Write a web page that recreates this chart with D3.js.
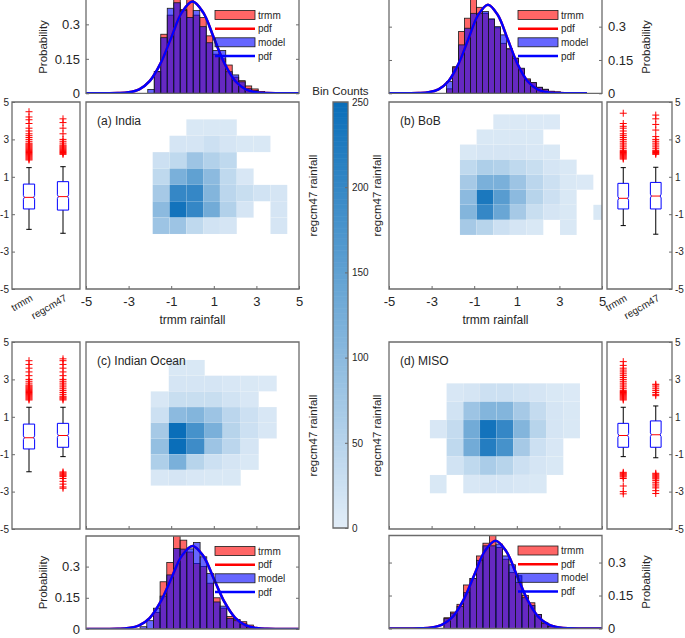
<!DOCTYPE html>
<html><head><meta charset="utf-8">
<script src="https://cdn.jsdelivr.net/npm/d3@7"></script>
<style>
body{margin:0;background:#fff}
svg{display:block}
text{font-family:"Liberation Sans",Arial,sans-serif;fill:#262626}
</style>
</head><body>
<svg id="c" width="685" height="638"></svg>
<script>
// ---------------- DATA ----------------
const panelLabels = ["(a) India", "(b) BoB", "(c) Indian Ocean", "(d) MISO"];
const boxCategories = ["trmm", "regcm47"];
const heatTicks = [-5, -3, -1, 1, 3, 5];
const histTicks = [0, 0.15, 0.3];
const cbarTicks = [0, 50, 100, 150, 200, 250];
const legendLabels = ["trmm", "pdf", "model", "pdf"];

// 2-D histogram bin edges: [xStart, xStep, yStart, yStep]; counts rows listed top -> bottom
const heatEdgesA = [-1.87, 0.79, -2.06, 0.876];
const heatCountsA = [
  [0, 0, 10, 10, 10, 0, 0, 0],
  [0, 15, 15, 25, 15, 10, 10, 0],
  [25, 40, 80, 55, 40, 0, 0, 0],
  [40, 120, 150, 100, 40, 12, 0, 0],
  [70, 200, 200, 110, 45, 30, 20, 15],
  [100, 240, 200, 130, 55, 15, 0, 15],
  [80, 80, 40, 20, 15, 0, 0, 15]
];
const heatEdgesB = [-1.67, 0.783, -2.11, 0.806];
const heatCountsB = [
  [0, 0, 8, 8, 8, 8, 0, 0, 0],
  [0, 10, 10, 10, 10, 0, 0, 0, 0],
  [10, 15, 15, 15, 12, 10, 0, 0, 0],
  [40, 60, 55, 40, 30, 15, 10, 0, 0],
  [70, 120, 120, 80, 45, 25, 10, 8, 0],
  [100, 230, 160, 100, 50, 25, 10, 0, 0],
  [110, 200, 140, 70, 30, 15, 10, 0, 10],
  [70, 50, 25, 15, 10, 0, 10, 0, 0]
];
const heatEdgesC = [-1.96, 0.845, -2.68, 0.84];
const heatCountsC = [
  [0, 10, 10, 0, 0, 0, 0],
  [0, 15, 15, 15, 12, 10, 8],
  [12, 30, 30, 30, 20, 12, 0],
  [25, 100, 110, 80, 45, 25, 12],
  [70, 250, 180, 120, 50, 25, 12],
  [90, 250, 190, 80, 45, 15, 0],
  [60, 120, 50, 25, 15, 10, 0],
  [12, 15, 12, 10, 10, 0, 0]
];
const heatEdgesD = [-3.08, 0.783, -3.09, 0.98];
const heatCountsD = [
  [0, 12, 15, 25, 25, 20, 15, 10, 8],
  [0, 20, 80, 110, 110, 70, 35, 15, 10],
  [12, 35, 130, 240, 200, 110, 50, 15, 10],
  [0, 40, 130, 220, 180, 70, 25, 12, 0],
  [0, 20, 40, 65, 50, 25, 15, 10, 0],
  [10, 0, 12, 15, 15, 12, 10, 0, 0]
];

// Box plot stats: [lower whisker, q1, median, q3, upper whisker]
const boxTrmmA = [-1.81, -0.72, -0.10, 0.61, 1.49];
const boxModelA = [-2.02, -0.78, -0.06, 0.74, 1.54];
const outTrmmA = [1.9,1.95,2.0,2.05,2.1,2.15,2.2,2.25,2.3,2.35,2.4,2.45,2.5,2.55,2.6,2.65,2.7,2.75,2.8,2.9,3.0,3.1,3.2,3.3,3.45,3.6,3.85,4.05,4.2,4.48];
const outModelA = [2.2,2.25,2.3,2.35,2.4,2.45,2.5,2.55,2.6,2.65,2.7,2.8,2.9,3.0,3.3,3.6,3.9,4.1];
const boxTrmmB = [-1.61, -0.72, -0.15, 0.65, 1.49];
const boxModelB = [-2.07, -0.72, -0.03, 0.70, 1.51];
const outTrmmB = [1.95,2.0,2.05,2.1,2.15,2.2,2.25,2.3,2.35,2.4,2.5,2.6,2.7,2.8,2.9,3.0,3.1,3.2,3.3,3.45,3.6,3.7,3.85,4.4];
const outModelB = [2.2,2.25,2.3,2.35,2.4,2.5,2.6,2.7,2.8,2.9,3.0,3.15,3.5,3.8,4.1,4.3];
const boxTrmmC = [-1.94, -0.72, -0.12, 0.61, 1.51];
const boxModelC = [-1.13, -0.63, 0.0, 0.65, 1.51];
const outTrmmC = [1.9,1.95,2.0,2.05,2.1,2.15,2.2,2.25,2.3,2.35,2.4,2.45,2.5,2.55,2.6,2.65,2.7,2.8,2.9,3.0,3.2,3.4,3.6,3.8,4.0];
const outModelC = [1.9,1.95,2.0,2.05,2.1,2.2,2.3,2.4,2.5,2.6,2.7,2.8,2.9,3.0,3.2,3.4,3.6,3.8,4.0,4.1,
                   -1.95,-2.0,-2.05,-2.1,-2.15,-2.2,-2.3,-2.45,-2.6,-2.75,-2.82];
const boxTrmmD = [-1.13, -0.63, 0.0, 0.65, 1.51];
const boxModelD = [-1.19, -0.63, 0.04, 0.78, 1.58];
const outTrmmD = [1.9,1.95,2.0,2.05,2.1,2.15,2.2,2.25,2.3,2.35,2.4,2.5,2.6,2.7,2.8,2.9,3.0,3.1,3.2,3.3,3.4,3.5,3.6,3.75,3.95,
                  -1.97,-2.02,-2.07,-2.12,-2.17,-2.22,-2.3,-2.7,-3.0,-3.12];
const outModelD = [2.13,2.2,2.3,2.4,2.5,2.6,2.7,2.74,
                   -2.02,-2.07,-2.12,-2.17,-2.22,-2.27,-2.32,-2.4,-2.5,-2.6,-2.7,-2.8,-2.95,-3.1];

// Histograms (probability density): bins [start, width]
const histBinsA = [-2.10, 0.305];
const histTrmmA = [0, 0.095, 0.257, 0.34, 0.415, 0.365, 0.415, 0.34, 0.33, 0.25, 0.17, 0.15, 0.123, 0.07, 0.055, 0.032, 0.019, 0.008];
const histModelA = [0.017, 0.094, 0.242, 0.37, 0.394, 0.36, 0.33, 0.36, 0.29, 0.22, 0.186, 0.186, 0.094, 0.08, 0.05, 0.02, 0.012, 0.005];
const histBinsB = [-2.09, 0.303];
const histTrmmB = [0.02, 0.12, 0.278, 0.338, 0.43, 0.387, 0.36, 0.333, 0.295, 0.225, 0.2, 0.158, 0.11, 0.065, 0.048, 0.027, 0.018, 0.009, 0.006];
const histModelB = [0.053, 0.115, 0.218, 0.293, 0.36, 0.36, 0.368, 0.335, 0.3, 0.263, 0.2, 0.158, 0.113, 0.06, 0.048, 0.027, 0.018, 0.009, 0.006];
const histBinsC = [-2.46, 0.313];
const histTrmmC = [0, 0, 0.08, 0.227, 0.32, 0.448, 0.427, 0.37, 0.315, 0.3, 0.22, 0.15, 0.1, 0.06, 0.046, 0.035, 0.019, 0.006];
const histModelC = [0.011, 0.04, 0.1, 0.158, 0.26, 0.387, 0.384, 0.385, 0.416, 0.347, 0.267, 0.13, 0.11, 0.05, 0.04, 0.025, 0.01, 0.003];
const histBinsD = [-2.42, 0.305];
const histTrmmD = [0.049, 0.075, 0.11, 0.198, 0.227, 0.33, 0.388, 0.43, 0.368, 0.315, 0.255, 0.21, 0.15, 0.117, 0.064, 0.026, 0.012, 0.005];
const histModelD = [0.045, 0.07, 0.1, 0.163, 0.227, 0.31, 0.376, 0.376, 0.384, 0.33, 0.29, 0.24, 0.14, 0.105, 0.064, 0.022, 0.01, 0.004];

// fitted pdf curve
const pdfX = [-5,-4.5,-4,-3.5,-3,-2.5,-2,-1.5,-1,-0.5,0,0.5,1,1.5,2,2.5,3,3.5,4,4.5,5];
const pdfY = [0,0,0.0001,0.0009,0.0044,0.0175,0.054,0.13,0.242,0.352,0.399,0.352,0.242,0.13,0.054,0.0175,0.0044,0.0009,0.0001,0,0];

// ---------------- DRAWING ----------------
const svg = d3.select("#c");
const AX = "#6b6b6b";
const FONT = '"Liberation Sans", Arial, sans-serif';
const color = d3.scaleLinear().domain([0, 250]).range(["#e2edf8", "#0a6eb9"]);
let clipN = 0;
function clip(x0, y0, x1, y1) {
  const id = "cl" + (clipN++);
  svg.append("clipPath").attr("id", id).append("rect")
    .attr("x", x0).attr("y", y0).attr("width", x1 - x0).attr("height", y1 - y0);
  return `url(#${id})`;
}
function styleAxis(sel, fs) {
  sel.select(".domain").remove();
  sel.attr("font-family", FONT).attr("font-size", fs);
  sel.selectAll(".tick line").attr("stroke", AX).attr("stroke-width", 1);
  sel.selectAll(".tick text").attr("fill", "#262626");
}
function border(g, x0, y0, x1, y1, withTop = true) {
  const d = withTop ? `M${x0},${y0}H${x1}V${y1}H${x0}Z` : `M${x0},${y0}V${y1}H${x1}V${y0}`;
  g.append("path").attr("d", d).attr("fill", "none").attr("stroke", AX).attr("stroke-width", 1.3);
}
const fmt = d => String(d);

function drawHeat(counts, edges, label, xr, yr, showX) {
  const x = d3.scaleLinear([-5, 5], xr), y = d3.scaleLinear([-5, 5], [yr[1], yr[0]]);
  const g = svg.append("g");
  const nR = counts.length, cells = [];
  counts.forEach((row, i) => row.forEach((c, j) => {
    if (c > 0) cells.push({ c, xl: edges[0] + j * edges[1], yl: edges[2] + (nR - 1 - i) * edges[3] });
  }));
  g.append("g").attr("clip-path", clip(xr[0], yr[0], xr[1], yr[1]))
    .selectAll("rect").data(cells).join("rect")
    .attr("x", d => x(d.xl)).attr("y", d => y(d.yl + edges[3]))
    .attr("width", d => x(d.xl + edges[1]) - x(d.xl))
    .attr("height", d => y(d.yl) - y(d.yl + edges[3]))
    .attr("fill", d => color(d.c)).attr("stroke", "#fff").attr("stroke-width", 0.3).attr("stroke-opacity", 0.25);
  const ax = g.append("g").attr("transform", `translate(0,${yr[1]})`)
    .call(d3.axisBottom(x).tickValues(heatTicks).tickSize(-3).tickPadding(8).tickFormat(showX ? fmt : () => ""));
  styleAxis(ax, 13);
  border(g, xr[0], yr[0], xr[1], yr[1]);
  g.append("text").attr("x", xr[0] + 11).attr("y", yr[0] + 23).style("font-size", "12px").text(label);
  if (showX) {
    g.append("text").attr("x", (xr[0] + xr[1]) / 2).attr("y", yr[1] + 35)
      .attr("text-anchor", "middle").style("font-size", "12px").text("trmm rainfall");
  }
}

function drawBox(stats, outs, xr, yr, side, showX) {
  const x = d3.scaleLinear([0.5, 2.5], xr), y = d3.scaleLinear([-5, 5], [yr[1], yr[0]]);
  const g = svg.append("g");
  const unit = x(1) - x(0);
  const hw = 0.165 * unit, cap = 0.08 * unit, nd = 1.0, nh = 0.1;
  stats.forEach((s, k) => {
    const cx = x(k + 1);
    const ln = (x1, y1, x2, y2, c) => g.append("line").attr("x1", x1).attr("y1", y1).attr("x2", x2).attr("y2", y2)
      .attr("stroke", c).attr("stroke-width", 1);
    ln(cx, y(s[3]), cx, y(s[4]), "#000");
    ln(cx, y(s[1]), cx, y(s[0]), "#000");
    ln(cx - cap, y(s[4]), cx + cap, y(s[4]), "#000");
    ln(cx - cap, y(s[0]), cx + cap, y(s[0]), "#000");
    const pts = [[cx - hw, y(s[1])], [cx - hw, y(s[2] - nh)], [cx - hw + nd, y(s[2])], [cx - hw, y(s[2] + nh)],
      [cx - hw, y(s[3])], [cx + hw, y(s[3])], [cx + hw, y(s[2] + nh)], [cx + hw - nd, y(s[2])],
      [cx + hw, y(s[2] - nh)], [cx + hw, y(s[1])]];
    g.append("path").attr("d", d3.line()(pts) + "Z").attr("fill", "none").attr("stroke", "#0000ff").attr("stroke-width", 1);
    ln(cx - hw + nd, y(s[2]), cx + hw - nd, y(s[2]), "#ff0000");
    g.append("g").selectAll("path").data(outs[k]).join("path")
      .attr("d", "M-3.5,0H3.5M0,-3.5V3.5").attr("transform", v => `translate(${cx},${y(v)})`)
      .attr("stroke", "#ff0000").attr("stroke-width", 1).attr("fill", "none");
  });
  const axis = side === "left" ? d3.axisLeft(y) : d3.axisRight(y);
  const ax = g.append("g").attr("transform", `translate(${side === "left" ? xr[0] : xr[1]},0)`)
    .call(axis.tickValues(heatTicks).tickSize(-3).tickPadding(3).tickFormat(fmt));
  styleAxis(ax, 10);
  border(g, xr[0], yr[0], xr[1], yr[1]);
  if (showX) {
    boxCategories.forEach((c, k) => {
      g.append("text").attr("transform", `translate(${x(k + 1) + 4.5},${yr[1] + 11}) rotate(-30)`)
        .attr("text-anchor", "end").style("font-size", "10px").text(c);
    });
  }
}

function drawHist(trmm, model, bins, xr, yr, xDom, ymax, side, withTop) {
  const x = d3.scaleLinear(xDom, xr), y = d3.scaleLinear([0, ymax], [yr[1], yr[0]]);
  const g = svg.append("g");
  const cp = clip(xr[0], yr[0], xr[1], yr[1]);
  const plot = g.append("g").attr("clip-path", cp);
  [[trmm, "#ff0000"], [model, "#0000ff"]].forEach(([vals, c]) => {
    plot.append("g").selectAll("rect").data(vals).join("rect")
      .attr("x", (d, i) => x(bins[0] + i * bins[1]))
      .attr("width", (d, i) => x(bins[0] + (i + 1) * bins[1]) - x(bins[0] + i * bins[1]))
      .attr("y", d => y(d)).attr("height", d => y(0) - y(d))
      .attr("fill", c).attr("fill-opacity", 0.6).attr("stroke", "#1a1a1a").attr("stroke-width", 0.8);
  });
  const line = d3.line().x((d, i) => x(pdfX[i])).y(d => y(d)).curve(d3.curveCatmullRom);
  plot.append("path").attr("d", line(pdfY)).attr("fill", "none").attr("stroke", "#ff0000").attr("stroke-width", 2.5);
  plot.append("path").attr("d", line(pdfY)).attr("fill", "none").attr("stroke", "#0000ff").attr("stroke-width", 2.5);
  // axes
  const lab = side === "left";
  const a1 = g.append("g").attr("transform", `translate(${xr[0]},0)`)
    .call(d3.axisLeft(y).tickValues(histTicks).tickSize(-3).tickPadding(6).tickFormat(lab ? fmt : () => ""));
  styleAxis(a1, 13);
  const a2 = g.append("g").attr("transform", `translate(${xr[1]},0)`)
    .call(d3.axisRight(y).tickValues(histTicks).tickSize(-3).tickPadding(6).tickFormat(lab ? () => "" : fmt));
  styleAxis(a2, 13);
  border(g, xr[0], yr[0], xr[1], yr[1], withTop);
  // y label
  const lx = lab ? xr[0] - 43 : xr[1] + 44;
  const ly = withTop ? (yr[0] + yr[1]) / 2 : 47;
  g.append("text").attr("transform", `translate(${lx},${ly}) rotate(-90)`).attr("text-anchor", "middle")
    .attr("dominant-baseline", "central").style("font-size", "11.5px").text("Probability");
  // legend
  const top = withTop ? yr[0] : 0;
  const rows = [15, 28.7, 42.3, 56];
  const sx0 = xr[1] - 84, sx1 = xr[1] - 44;
  legendLabels.forEach((t, i) => {
    const yy = top + rows[i];
    if (i === 0 || i === 2) {
      g.append("rect").attr("x", sx0).attr("y", yy - 4.5).attr("width", sx1 - sx0).attr("height", 9)
        .attr("fill", i === 0 ? "#ff0000" : "#0000ff").attr("fill-opacity", 0.6)
        .attr("stroke", "#1a1a1a").attr("stroke-width", 0.8);
    } else {
      g.append("line").attr("x1", sx0).attr("x2", sx1).attr("y1", yy).attr("y2", yy)
        .attr("stroke", i === 1 ? "#ff0000" : "#0000ff").attr("stroke-width", 2.5);
    }
    g.append("text").attr("x", xr[1] - 41).attr("y", yy).attr("dominant-baseline", "central")
      .style("font-size", "10px").text(t);
  });
}

// layout
const LBOX = [12, 80], LHEAT = [86, 299], RHEAT = [389, 602], RBOX = [607, 672];
const TOPROW = [102, 289], BOTROW = [342, 529];

drawHist(histTrmmA, histModelA, histBinsA, LHEAT, [0, 93.3], [-5, 5], 0.406, "left", false);
drawHist(histTrmmB, histModelB, histBinsB, RHEAT, [0, 93.3], [-5, 5.76], 0.42, "right", false);
drawHist(histTrmmC, histModelC, histBinsC, LHEAT, [536, 629], [-5, 5], 0.447, "left", true);
drawHist(histTrmmD, histModelD, histBinsD, RHEAT, [535.5, 628.5], [-5, 5], 0.423, "right", true);

drawHeat(heatCountsA, heatEdgesA, panelLabels[0], LHEAT, TOPROW, true);
drawHeat(heatCountsB, heatEdgesB, panelLabels[1], RHEAT, TOPROW, true);
drawHeat(heatCountsC, heatEdgesC, panelLabels[2], LHEAT, BOTROW, false);
drawHeat(heatCountsD, heatEdgesD, panelLabels[3], RHEAT, BOTROW, false);

drawBox([boxTrmmA, boxModelA], [outTrmmA, outModelA], LBOX, TOPROW, "left", true);
drawBox([boxTrmmB, boxModelB], [outTrmmB, outModelB], RBOX, TOPROW, "right", true);
drawBox([boxTrmmC, boxModelC], [outTrmmC, outModelC], LBOX, BOTROW, "left", false);
drawBox([boxTrmmD, boxModelD], [outTrmmD, outModelD], RBOX, BOTROW, "right", false);

// y labels of heat maps
[[LHEAT[1] + 14, TOPROW], [RHEAT[0] - 12, TOPROW], [LHEAT[1] + 14, BOTROW], [RHEAT[0] - 12, BOTROW]].forEach(([lx, r]) => {
  svg.append("text").attr("transform", `translate(${lx},${(r[0] + r[1]) / 2}) rotate(-90)`)
    .attr("text-anchor", "middle").attr("dominant-baseline", "central").style("font-size", "11.5px").text("regcm47 rainfall");
});

// colour bar
const CB = [333, 348], CBY = [102, 528];
const cy = d3.scaleLinear([0, 250], [CBY[1], CBY[0]]);
const cbg = svg.append("g");
cbg.selectAll("rect").data(d3.range(0, 250)).join("rect")
  .attr("x", CB[0]).attr("width", CB[1] - CB[0]).attr("y", d => cy(d + 1)).attr("height", cy(0) - cy(1) + 0.6)
  .attr("fill", d => color(d + 0.5));
const cax = cbg.append("g").attr("transform", `translate(${CB[1]},0)`)
  .call(d3.axisRight(cy).tickValues(cbarTicks).tickSize(-3).tickPadding(4).tickFormat(fmt));
styleAxis(cax, 10);
border(cbg, CB[0], CBY[0], CB[1], CBY[1]);
cbg.append("text").attr("x", (CB[0] + CB[1]) / 2).attr("y", CBY[0] - 7).attr("text-anchor", "middle")
  .style("font-size", "11.5px").text("Bin Counts");
</script>
</body></html>
